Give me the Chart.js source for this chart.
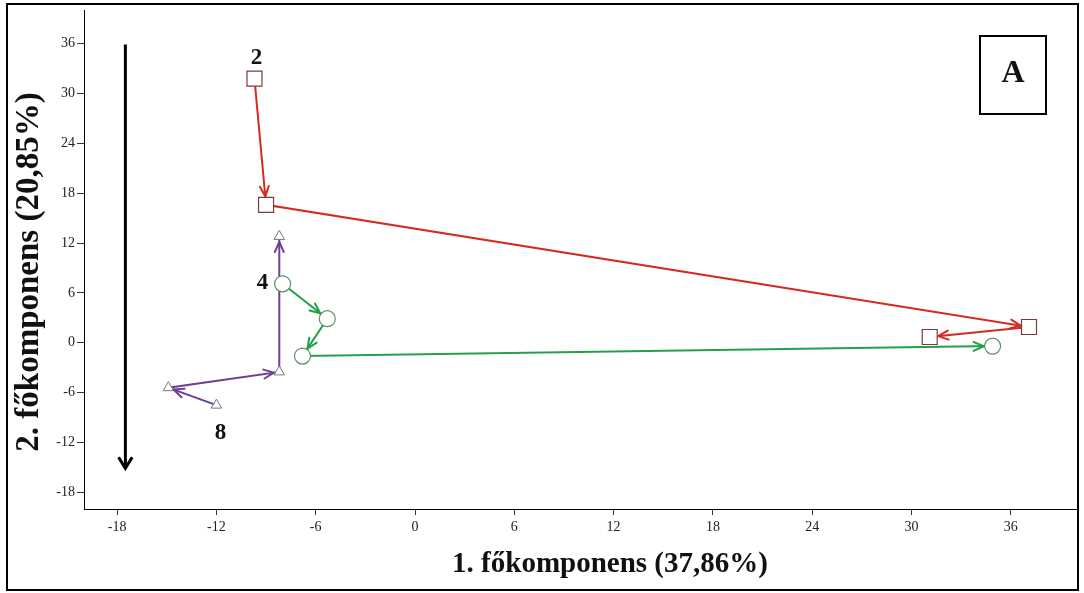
<!DOCTYPE html>
<html>
<head>
<meta charset="utf-8">
<title>Főkomponens-elemzés</title>
<script src="https://cdn.jsdelivr.net/npm/chart.js@4.4.1/dist/chart.umd.min.js"></script>
<style>
  html, body { margin: 0; padding: 0; background: #fff; }
  #wrap { width: 1084px; height: 593px; position: relative; }
</style>
</head>
<body>
<div id="wrap"><canvas id="pca" width="1084" height="593"></canvas></div>
<script>
// Tick values on both axes
const xTicks = [-18, -12, -6, 0, 6, 12, 18, 24, 30, 36];
const yTicks = [-18, -12, -6, 0, 6, 12, 18, 24, 30, 36];

// Trajectories in the plane of the first two principal components (in time order)
const group2X = [-9.7, -9.0, 37.1, 31.1];
const group2Y = [31.8, 16.6, 1.9, 0.7];
const group4X = [-8.0, -5.3, -6.8, 34.9];
const group4Y = [7.1, 2.9, -1.6, -0.4];
const group8X = [-12.0, -14.9, -8.2, -8.2];
const group8Y = [-7.5, -5.4, -3.5, 12.8];

const groupLabels = ['2', '4', '8'];

// Vertical direction arrow along the left side (x, y start, y end)
const trendArrowX = [-17.5];
const trendArrowY = [35.9, -15.1];

const xTitle = '1. főkomponens (37,86%)';
const yTitle = '2. főkomponens (20,85%)';
const panelLetter = 'A';

const toPoints = (xs, ys) => xs.map((x, i) => ({ x: x, y: ys[i] }));

const SERIF = "'Liberation Serif', 'Times New Roman', serif";

function edgeDistance(style, radius, dx, dy) {
  const len = Math.hypot(dx, dy) || 1;
  const c = Math.abs(dx / len), s = Math.abs(dy / len);
  if (style === 'rect') {
    const h = Math.SQRT1_2 * radius;
    return h / Math.max(c, s) + 1;
  }
  if (style === 'triangle') return radius * 0.75 + 1;
  return radius + 1;
}

function drawHead(ctx, tipX, tipY, ang, len, spread) {
  ctx.beginPath();
  ctx.moveTo(tipX - len * Math.cos(ang - spread), tipY - len * Math.sin(ang - spread));
  ctx.lineTo(tipX, tipY);
  ctx.lineTo(tipX - len * Math.cos(ang + spread), tipY - len * Math.sin(ang + spread));
  ctx.stroke();
}

const annotate = {
  id: 'annotate',
  beforeDraw(chart) {
    const ctx = chart.ctx;
    ctx.save();
    ctx.fillStyle = '#fff';
    ctx.fillRect(0, 0, chart.width, chart.height);
    ctx.restore();
  },
  afterDatasetsDraw(chart) {
    const ctx = chart.ctx;
    ctx.save();
    ctx.lineCap = 'round';
    ctx.lineJoin = 'round';
    chart.data.datasets.forEach((ds, di) => {
      const meta = chart.getDatasetMeta(di);
      const pts = meta.data;
      ctx.strokeStyle = ds.borderColor;
      ctx.lineWidth = 2;
      for (let i = 1; i < pts.length; i++) {
        const a = pts[i - 1], b = pts[i];
        const dx = b.x - a.x, dy = b.y - a.y;
        const ang = Math.atan2(dy, dx);
        const d = edgeDistance(ds.pointStyle, ds.pointRadius, dx, dy);
        drawHead(ctx, b.x - d * Math.cos(ang), b.y - d * Math.sin(ang), ang, 11, 0.42);
      }
    });
    ctx.restore();
  },
  afterDraw(chart) {
    const ctx = chart.ctx;
    const xs = chart.scales.x, ys = chart.scales.y;
    ctx.save();

    // outer frame
    ctx.strokeStyle = '#000';
    ctx.lineWidth = 2;
    ctx.strokeRect(7, 4, 1071, 586);

    // axis titles
    ctx.fillStyle = '#111';
    ctx.textAlign = 'center';
    ctx.textBaseline = 'middle';
    ctx.font = 'bold 29px ' + SERIF;
    ctx.fillText(xTitle, 610, 565);
    ctx.save();
    ctx.translate(29, 272);
    ctx.rotate(-Math.PI / 2);
    ctx.font = 'bold 33px ' + SERIF;
    ctx.fillText(yTitle, 0, 0);
    ctx.restore();

    // panel letter box
    ctx.lineWidth = 2;
    ctx.strokeRect(980, 36, 66, 78);
    ctx.font = 'bold 32px ' + SERIF;
    ctx.fillText(panelLetter, 1013, 74);

    // group labels next to each trajectory's first point
    ctx.font = 'bold 23px ' + SERIF;
    const offsets = [[2, -20], [-20, -1], [4, 28]];
    groupLabels.forEach((txt, i) => {
      const p = chart.getDatasetMeta(i).data[0];
      ctx.fillText(txt, p.x + offsets[i][0], p.y + offsets[i][1]);
    });

    // direction arrow
    const ax = xs.getPixelForValue(trendArrowX[0]);
    const ay0 = ys.getPixelForValue(trendArrowY[0]);
    const ay1 = ys.getPixelForValue(trendArrowY[1]);
    ctx.strokeStyle = '#000';
    ctx.lineWidth = 3;
    ctx.lineCap = 'butt';
    ctx.beginPath();
    ctx.moveTo(ax, ay0);
    ctx.lineTo(ax, ay1 - 2);
    ctx.stroke();
    ctx.lineJoin = 'miter';
    drawHead(ctx, ax, ay1, Math.PI / 2, 13, 0.55);
    ctx.restore();
  }
};

new Chart(document.getElementById('pca'), {
  type: 'scatter',
  data: {
    datasets: [
      {
        label: groupLabels[0],
        data: toPoints(group2X, group2Y),
        showLine: true,
        borderColor: '#d62a20',
        borderWidth: 2,
        pointStyle: 'rect',
        pointRadius: 10.6,
        pointBorderWidth: 1.2,
        pointBorderColor: '#7d3a3a',
        pointBackgroundColor: '#ffffff'
      },
      {
        label: groupLabels[1],
        data: toPoints(group4X, group4Y),
        showLine: true,
        borderColor: '#22a04a',
        borderWidth: 2,
        pointStyle: 'circle',
        pointRadius: 8,
        pointBorderWidth: 1.2,
        pointBorderColor: '#5f8f6a',
        pointBackgroundColor: '#ffffff'
      },
      {
        label: groupLabels[2],
        data: toPoints(group8X, group8Y),
        showLine: true,
        borderColor: '#6e3f93',
        borderWidth: 2,
        pointStyle: 'triangle',
        pointRadius: 6,
        pointBorderWidth: 1,
        pointBorderColor: '#777777',
        pointBackgroundColor: '#ffffff'
      }
    ]
  },
  options: {
    responsive: false,
    animation: false,
    devicePixelRatio: 1,
    layout: { autoPadding: false, padding: { left: 0, top: 4, right: 7, bottom: 0 } },
    plugins: {
      legend: { display: false },
      tooltip: { enabled: false }
    },
    scales: {
      x: {
        type: 'linear',
        min: -20,
        max: 40,
        afterBuildTicks: (s) => { s.ticks = xTicks.map(v => ({ value: v })); },
        afterFit: (s) => { s.height = 84; },
        grid: { display: true, drawOnChartArea: false, drawTicks: true, tickLength: 6, tickColor: '#333' },
        border: { display: true, color: '#000', width: 1 },
        ticks: { color: '#222', padding: 4, font: { family: SERIF, size: 14 } }
      },
      y: {
        type: 'linear',
        min: -20,
        max: 40,
        afterBuildTicks: (s) => { s.ticks = yTicks.map(v => ({ value: v })); },
        afterFit: (s) => { s.width = 84; },
        grid: { display: true, drawOnChartArea: false, drawTicks: true, tickLength: 7, tickColor: '#333' },
        border: { display: true, color: '#000', width: 1 },
        ticks: { color: '#222', padding: 2, font: { family: SERIF, size: 14 } }
      }
    }
  },
  plugins: [annotate]
});
</script>
</body>
</html>
